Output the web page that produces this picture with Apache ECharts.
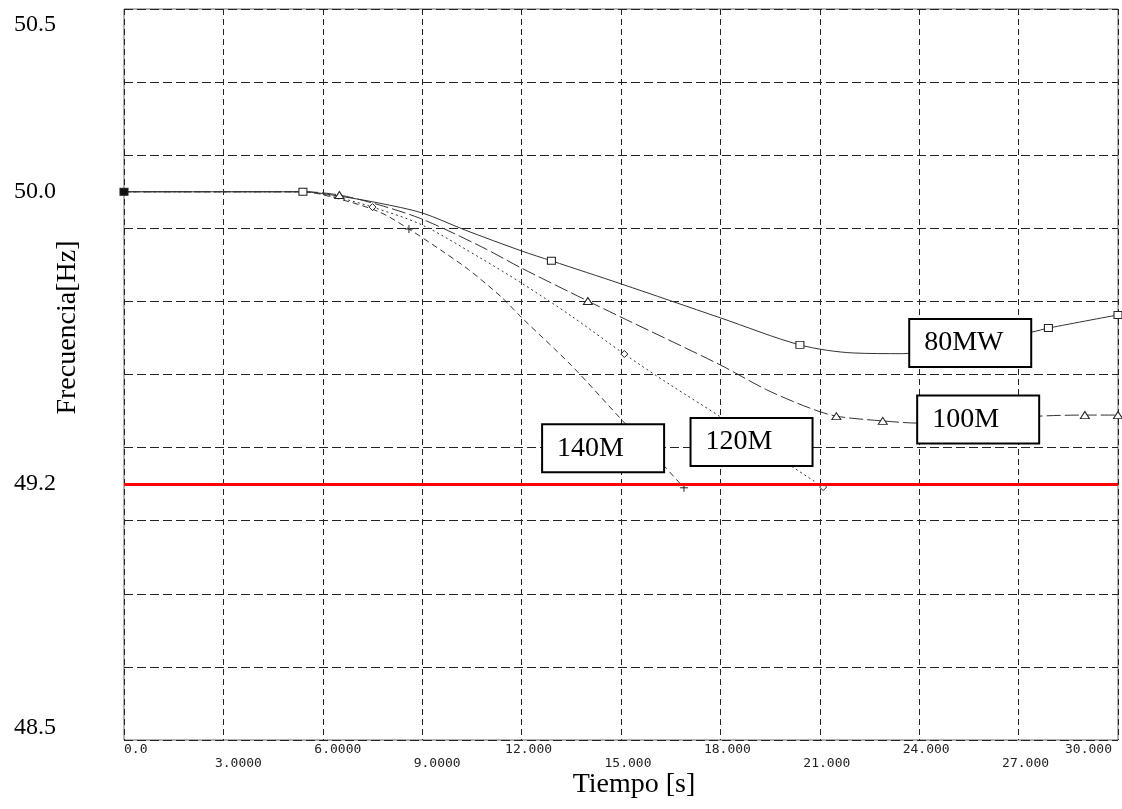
<!DOCTYPE html>
<html>
<head>
<meta charset="utf-8">
<script src="https://cdn.jsdelivr.net/npm/echarts@6/dist/echarts.min.js"></script>
<style>
  html, body { margin: 0; padding: 0; background: #fff; }
  #chart { width: 1122px; height: 809px; }
</style>
</head>
<body>
<div id="chart"></div>
<script>
// tick labels
const xTickLabels = ['0.0', '3.0000', '6.0000', '9.0000', '12.000', '15.000', '18.000', '21.000', '24.000', '27.000', '30.000']
const yTickValues = [48.5, 49.2, 50.0, 50.5]
const limitHz = 49.2

// 80MW
const t80 = [0, 3, 5.4, 6.5, 7.7, 9, 10.3, 12, 12.9, 15, 18, 20.4, 22, 23.5, 25, 26.3, 27.4, 27.9, 30]
const f80 = [50.0, 50.0, 50.0, 49.988, 49.969, 49.942, 49.895, 49.838, 49.811, 49.748, 49.655, 49.581, 49.559, 49.557, 49.573, 49.597, 49.616, 49.627, 49.663]
const mark80 = [0, 2, 8, 11, 17, 18]

// 100M
const t100 = [0, 5.4, 6.5, 7.7, 9, 10.8, 12, 14, 15, 18, 19.4, 20.7, 21.5, 22.9, 24, 26, 27.6, 29, 30]
const f100 = [50.0, 50.0, 49.991, 49.964, 49.925, 49.849, 49.791, 49.701, 49.657, 49.526, 49.458, 49.408, 49.386, 49.373, 49.367, 49.375, 49.386, 49.389, 49.389]
const mark100 = [2, 7, 12, 13, 17, 18]

// 120M
const t120 = [0, 5.4, 6.5, 7.5, 9, 10.75, 12, 13.5, 15.1, 16.5, 18, 20, 21.1]
const f120 = [50.0, 50.0, 49.983, 49.958, 49.909, 49.819, 49.750, 49.660, 49.556, 49.471, 49.384, 49.258, 49.192]
const mark120 = [3, 8, 12]

// 140M
const t140 = [0, 5.4, 6.5, 7.7, 8.6, 9.6, 10.4, 11.4, 12, 13.5, 15, 16.3, 16.9]
const f140 = [50.0, 50.0, 49.980, 49.945, 49.898, 49.838, 49.787, 49.711, 49.656, 49.525, 49.378, 49.250, 49.190]
const mark140 = [4, 12]

// cuadros de texto (centro, en coordenadas de datos)
const boxNames = ['80MW', '100M', '120M', '140M']
const boxT = [25.57, 25.81, 18.97, 14.49]
const boxF = [49.586, 49.377, 49.315, 49.298]

// el primer punto de cada curva se dibuja relleno (todas arrancan juntas)
const zip = (a, b) => a.map((v, i) => i === 0
  ? { value: [v, b[i]], itemStyle: { color: '#111' } }
  : [v, b[i]])

function curve(name, t, f, marks, symbol, size, dash) {
  return {
    name: name,
    type: 'line',
    data: zip(t, f),
    smooth: 0.3,
    showAllSymbol: true,
    symbol: (val, params) => marks.includes(params.dataIndex) ? symbol : 'none',
    symbolSize: size,
    lineStyle: { color: '#333', width: 1, type: dash },
    itemStyle: { color: '#fff', borderColor: '#222', borderWidth: 1 },
    emphasis: { disabled: true },
    z: 3
  }
}

const chart = echarts.init(document.getElementById('chart'))

const option = {
  backgroundColor: '#fff',
  animation: false,
  grid: {
    left: 124,
    right: 4,
    top: 9,
    bottom: 69,
    outerBoundsMode: 'none',
    containLabel: false,
    show: true,
    borderColor: '#666',
    borderWidth: 1
  },
  xAxis: {
    type: 'value',
    min: 0,
    max: 30,
    interval: 3,
    name: 'Tiempo [s]',
    nameLocation: 'middle',
    nameGap: 31,
    nameMoveOverlap: false,
    nameTextStyle: {
      fontFamily: 'Liberation Serif',
      fontSize: 28,
      color: '#000',
      padding: [0, 0, 0, 26]
    },
    axisLine: { show: false },
    axisTick: { show: false },
    axisLabel: {
      margin: 3,
      alignMinLabel: 'left',
      alignMaxLabel: 'right',
      formatter: function (value, index) {
        const s = xTickLabels[index]
        if (index === 0) return '{z|' + s + '}'
        if (index === xTickLabels.length - 1) return '{e|' + s + '}'
        // fila superior: índices pares, fila inferior: impares
        const even = index % 2 === 0
        if (index < 4) return even ? '{wu|' + s + '}' : '{wd|' + s + '}'
        return even ? '{u|' + s + '}' : '{d|' + s + '}'
      },
      rich: {
        z: { fontFamily: 'DejaVu Sans Mono', fontSize: 13, color: '#222' },
        e: { fontFamily: 'DejaVu Sans Mono', fontSize: 13, color: '#222', padding: [0, 6, 0, 0] },
        wu: { fontFamily: 'DejaVu Sans Mono', fontSize: 13, color: '#222', padding: [0, 0, 0, 30] },
        wd: { fontFamily: 'DejaVu Sans Mono', fontSize: 13, color: '#222', padding: [14, 0, 0, 30] },
        u: { fontFamily: 'DejaVu Sans Mono', fontSize: 13, color: '#222', padding: [0, 0, 0, 14] },
        d: { fontFamily: 'DejaVu Sans Mono', fontSize: 13, color: '#222', padding: [14, 0, 0, 14] }
      }
    },
    splitLine: {
      show: true,
      lineStyle: { color: '#222', width: 1, type: [6, 4] }
    }
  },
  yAxis: {
    type: 'value',
    min: 48.5,
    max: 50.5,
    interval: 0.2,
    name: 'Frecuencia[Hz]',
    nameLocation: 'middle',
    nameRotate: 90,
    nameGap: 42,
    nameMoveOverlap: false,
    nameTextStyle: {
      fontFamily: 'Liberation Serif',
      fontSize: 28,
      color: '#000',
      padding: [0, 0, 0, 94]
    },
    axisLine: { show: false },
    axisTick: { show: false },
    axisLabel: {
      customValues: yTickValues,
      margin: 68,
      formatter: function (value) {
        const s = value.toFixed(1)
        if (value >= 50.5) return '{t|' + s + '}'
        if (value <= 48.5) return '{b|' + s + '}'
        return '{m|' + s + '}'
      },
      rich: {
        t: { fontFamily: 'Liberation Serif', fontSize: 24, color: '#000', padding: [32, 0, 0, 0] },
        b: { fontFamily: 'Liberation Serif', fontSize: 24, color: '#000', padding: [0, 0, 24, 0] },
        m: { fontFamily: 'Liberation Serif', fontSize: 24, color: '#000' }
      }
    },
    splitLine: {
      show: true,
      lineStyle: { color: '#222', width: 1, type: [9, 4] }
    }
  },
  series: [
    curve('80MW', t80, f80, mark80, 'rect', [8, 7], 'solid'),
    curve('100M', t100, f100, mark100, 'triangle', [9, 7], [14, 4]),
    curve('120M', t120, f120, mark120, 'diamond', [7, 7], [2, 3]),
    curve('140M', t140, f140, mark140, 'path://M0,4H8M4,0V8', [8, 8], [6, 4]),
    {
      name: 'limite',
      type: 'line',
      data: [],
      silent: true,
      z: 4,
      markLine: {
        silent: true,
        symbol: ['none', 'none'],
        label: { show: false },
        lineStyle: { color: '#ff0000', width: 3, type: 'solid' },
        data: [{ yAxis: limitHz }]
      }
    },
    {
      name: 'etiquetas',
      type: 'scatter',
      data: [],
      silent: true,
      z: 10,
      markPoint: {
        silent: true,
        symbol: 'circle',
        symbolSize: 0,
        label: {
          show: true,
          position: 'inside',
          align: 'left',
          verticalAlign: 'middle',
          offset: [-61, 0],
          width: 106,
          height: 46,
          lineHeight: 46,
          padding: [0, 0, 0, 14],
          backgroundColor: '#fff',
          borderColor: '#000',
          borderWidth: 2,
          fontFamily: 'Liberation Serif',
          fontSize: 28,
          color: '#000',
          formatter: p => p.name
        },
        data: boxNames.map((n, i) => ({ name: n, coord: [boxT[i], boxF[i]] }))
      }
    }
  ]
}

chart.setOption(option)
</script>
</body>
</html>
